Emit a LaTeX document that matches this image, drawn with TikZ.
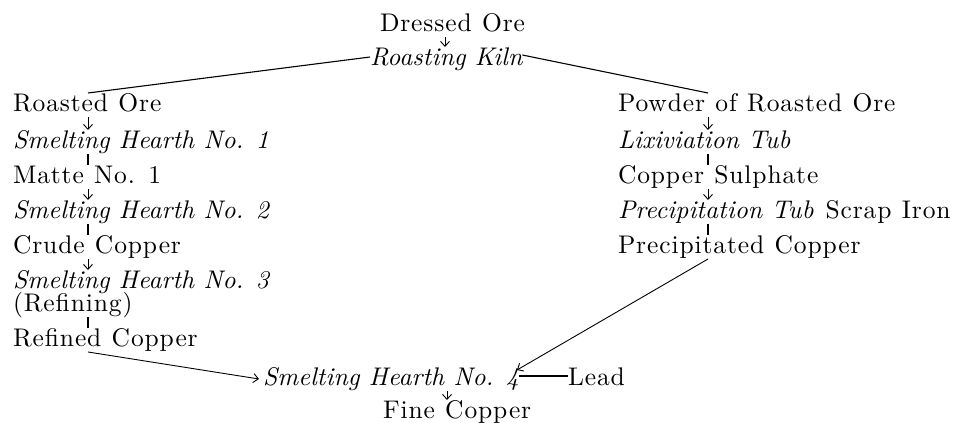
\documentclass[tikz,border=0pt]{standalone}
\usepackage{fontspec}
\newfontfamily\romfont{lmroman10-regular.otf}[LetterSpace=3.5,WordSpace=1.1]
\newfontfamily\itfont{lmroman10-italic.otf}[LetterSpace=0.5]
\usetikzlibrary{arrows.meta}
\begin{document}
\begin{tikzpicture}[x=1pt,y=-1pt,
  every node/.style={inner sep=0pt,outer sep=0pt,text height=18pt,text depth=6pt},
  lbl/.style={anchor=base west,font=\fontsize{25.5}{30}\romfont},
  itl/.style={anchor=base west,font=\fontsize{25.5}{30}\itfont},
  conn/.style={line width=1.1pt},
  arr/.style={line width=0.9pt,-{Straight Barb[length=5pt,width=9pt,line width=0.9pt]}}]
\useasboundingbox (0,0) rectangle (959,423);
\coordinate (colL) at (88,0);
\coordinate (colR) at (708,0);
\coordinate (colT) at (445,0);
\coordinate (colB) at (447,0);
% top
\node[lbl] (dressed) at (380,31) {Dressed Ore};
\node[itl] (kiln) at (370,65) {Roasting Kiln};
% left column
\node[lbl] (roasted) at (13,111) {Roasted Ore};
\node[itl] (sh1) at (13,148) {Smelting Hearth No. 1};
\node[lbl] (matte) at (13,183) {Matte No. 1};
\node[itl] (sh2) at (13,218) {Smelting Hearth No. 2};
\node[lbl] (crude) at (13,253) {Crude Copper};
\node[itl] (sh3) at (13,288) {Smelting Hearth No. 3};
\node[lbl] (refining) at (13,311) {(Refining)};
\node[lbl] (refined) at (13,346) {Refined Copper};
% right column
\node[lbl] (powder) at (618,111) {Powder of Roasted Ore};
\node[itl] (lix) at (618,148) {Lixiviation Tub};
\node[lbl] (sulph) at (618,183) {Copper Sulphate};
\node[itl] (ptub) at (618,218) {Precipitation Tub};
\node[lbl] (scrap) at ([xshift=12pt]ptub.base east) {Scrap Iron};
\node[lbl] (pcopper) at (618,253) {Precipitated Copper};
% bottom
\node[itl] (sh4) at (263,385) {Smelting Hearth No. 4};
\node[lbl] (lead) at (568,385) {Lead};
\node[lbl] (fine) at (383,418) {Fine Copper};
% connectors
\draw[arr] (dressed.south -| colT) -- (kiln.north -| colT);
\draw[conn] ([yshift=2pt]kiln.west) -- (roasted.north -| colL);
\draw[conn] ([yshift=4pt]kiln.east) -- (powder.north -| colR);
\draw[arr] (roasted.south -| colL) -- (sh1.north -| colL);
\draw[conn] (sh1.south -| colL) -- (matte.north -| colL);
\draw[arr] (matte.south -| colL) -- (sh2.north -| colL);
\draw[conn] (sh2.south -| colL) -- (crude.north -| colL);
\draw[arr] (crude.south -| colL) -- (sh3.north -| colL);
\draw[conn] (refining.south -| colL) -- (refined.north -| colL);
\draw[arr] (refined.south -| colL) -- ([xshift=-4pt]sh4.west);
\draw[arr] (powder.south -| colR) -- (lix.north -| colR);
\draw[conn] (lix.south -| colR) -- (sulph.north -| colR);
\draw[arr] (sulph.south -| colR) -- (ptub.north -| colR);
\draw[conn] (ptub.south -| colR) -- (pcopper.north -| colR);
\draw[arr] (pcopper.south -| colR) -- ([xshift=-2pt,yshift=-3pt]sh4.north east);
\draw[conn] ([yshift=3pt]lead.west) -- ([yshift=3pt]sh4.east);
\draw[arr] (sh4.south -| colB) -- (fine.north -| colB);
\end{tikzpicture}
\end{document}
